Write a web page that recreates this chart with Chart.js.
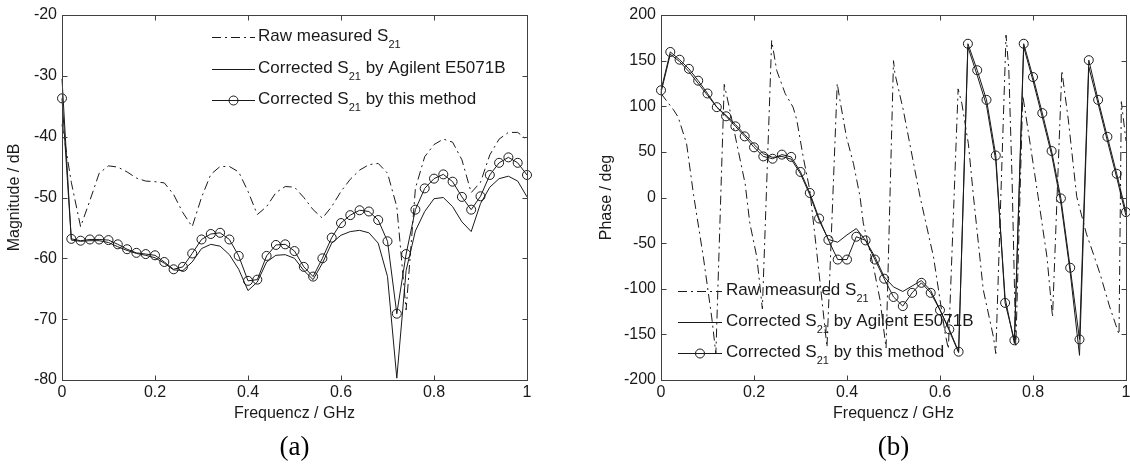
<!DOCTYPE html>
<html>
<head>
<meta charset="utf-8">
<script src="https://cdn.jsdelivr.net/npm/chart.js@4.4.0/dist/chart.umd.min.js"></script>
<style>
  html, body { margin: 0; padding: 0; background: #fff; overflow: hidden; }
  #wrap { position: relative; width: 1130px; height: 470px; }
  canvas { position: absolute; top: 0; }
  #magChart { left: 0; }
  #phaseChart { left: 565px; }
</style>
</head>
<body>
<div id="wrap">
  <canvas id="magChart" width="565" height="470"></canvas>
  <canvas id="phaseChart" width="575" height="470"></canvas>
</div>
<script>
// frequency grid of the corrected curves (GHz)
const freq = [0, 0.02, 0.04, 0.06, 0.08, 0.10, 0.12, 0.14, 0.16, 0.18,
  0.20, 0.22, 0.24, 0.26, 0.28, 0.30, 0.32, 0.34, 0.36, 0.38,
  0.40, 0.42, 0.44, 0.46, 0.48, 0.50, 0.52, 0.54, 0.56, 0.58,
  0.60, 0.62, 0.64, 0.66, 0.68, 0.70, 0.72, 0.74, 0.76, 0.78,
  0.80, 0.82, 0.84, 0.86, 0.88, 0.90, 0.92, 0.94, 0.96, 0.98, 1.00];

// (a) magnitude, dB
const magRaw = [-38, -47.5, -54.8, -50.5, -46.0, -44.8, -45.0, -45.8, -46.8, -47.3,
  -47.4, -47.6, -49.5, -52.5, -54.8, -50.0, -46.2, -44.9, -44.9, -45.8,
  -49.0, -52.8, -51.5, -49.2, -48.2, -48.3, -50.0, -52.0, -53.4, -51.5,
  -49.0, -47.0, -45.5, -44.6, -44.4, -46.0, -51.5, -68.5, -48.5, -43.3,
  -41.3, -40.4, -40.9, -43.8, -49.2, -47.5, -43.0, -40.4, -39.3, -39.3, -40.5];
const magAgilent = [-30.5, -57.0, -57.2, -57.1, -57.1, -57.4, -58.1, -58.7, -59.2, -59.5,
  -59.9, -60.8, -61.9, -62.0, -60.6, -58.4, -57.7, -58.0, -59.4, -61.8,
  -65.3, -63.9, -60.6, -59.5, -59.4, -60.0, -62.0, -63.5, -60.8, -57.5,
  -56.2, -55.6, -55.4, -55.8, -57.5, -63.0, -79.7, -62.0, -55.5, -52.3,
  -50.2, -50.0, -51.5, -54.0, -55.6, -51.0, -48.3, -46.9, -46.5, -47.3, -49.9];
const magMethod = [-33.7, -56.8, -57.1, -56.9, -56.9, -57.0, -57.7, -58.5, -59.1, -59.3,
  -59.5, -60.6, -61.8, -61.4, -59.2, -56.9, -56.0, -55.8, -56.9, -59.6,
  -63.7, -63.5, -59.6, -57.8, -57.7, -58.8, -61.4, -63.0, -60.0, -56.6,
  -54.2, -52.9, -52.1, -52.3, -53.7, -57.2, -69.1, -59.3, -52.0, -48.5,
  -46.9, -46.2, -47.4, -49.9, -52.0, -49.8, -46.3, -44.3, -43.4, -44.3, -46.3];

// (b) phase, deg
const phaseRawFreq = [0, 0.027, 0.037, 0.055, 0.07, 0.091, 0.109, 0.118,
  0.136, 0.148, 0.163, 0.181, 0.191, 0.206, 0.218,
  0.238, 0.249, 0.267, 0.284, 0.292, 0.306, 0.32, 0.335, 0.353, 0.357,
  0.379, 0.385, 0.399, 0.414, 0.428, 0.435, 0.457, 0.471, 0.484,
  0.5, 0.503, 0.521, 0.535, 0.557, 0.586, 0.6, 0.611, 0.618,
  0.639, 0.647, 0.661, 0.672, 0.693, 0.715, 0.72,
  0.742, 0.748, 0.755, 0.763,
  0.778, 0.795, 0.811, 0.83, 0.842,
  0.862, 0.876, 0.894, 0.915, 0.93, 0.945, 0.965, 0.985,
  0.99, 1.0];
const phaseRaw = [114, 96, 88, 59, 3, -65, -131, -171,
  124, 96, 59, 15, -28, -65, -122,
  172, 139, 114, 99, 85, 44, 8, -60, -145, -164,
  125, 106, 66, 37, 1, -28, -76, -112, -165,
  150, 136, 96, 59, 1, -65, -112, -149, -166,
  119, 103, 59, 1, -101, -153, -171,
  178, 140, 20, -164,
  112, 55, 1, -65, -131,
  139, 85, 1, -40, -62, -85, -120, -150,
  105, 62];
const phaseAgilent = [115, 157, 149, 138, 125, 112, 99, 90, 80, 69,
  58, 48, 44, 45, 42, 26, 3, -25, -46, -49,
  -41, -34, -47, -65, -87, -98, -103, -97, -91, -102,
  -123, -146, -170, 165, 134, 101, 40, -110, -160, 165,
  128, 88, 47, -6, -82, -173, 143, 103, 62, 22, -20];
const phaseMethod = [117.5, 159.5, 151, 141, 128, 114, 99, 89, 78, 67,
  55, 45, 42.5, 47, 44.5, 28, 5, -23, -46.5, -68,
  -68, -43, -47, -68, -89, -109, -119, -104.5, -93.5, -104.5,
  -123.5, -144.5, -169, 168.5, 139.5, 107, 46, -115.5, -156.5, 168.5,
  132, 92.5, 51, -1, -77, -155.5, 150.5, 107, 66.5, 26, -16];

// axis ticks
const freqTicks = [0, 0.2, 0.4, 0.6, 0.8, 1];
const magTicks = [-80, -70, -60, -50, -40, -30, -20];
const phaseTicks = [-200, -150, -100, -50, 0, 50, 100, 150, 200];

// legend text: [before subscript, subscript, after]
const legendLabels = [
  ['Raw measured S', '21', ''],
  ['Corrected S', '21', ' by Agilent E5071B'],
  ['Corrected S', '21', ' by this method']
];

const FONT = '"Liberation Sans", Arial, sans-serif';
const INK = '#1a1a1a';

function pts(xs, ys) {
  return xs.map((x, i) => ({ x: x, y: ys[i] }));
}

function drawLegend(chart, opts) {
  const ctx = chart.ctx;
  chart.data.datasets.forEach((ds, i) => {
    const y = opts.rows[i];
    const x0 = opts.lineX[0], x1 = opts.lineX[1];
    ctx.save();
    ctx.strokeStyle = ds.borderColor;
    ctx.lineWidth = ds.borderWidth;
    ctx.setLineDash(ds.borderDash || []);
    ctx.beginPath();
    ctx.moveTo(x0, y + 0.5);
    ctx.lineTo(x1, y + 0.5);
    ctx.stroke();
    ctx.setLineDash([]);
    if (ds.pointRadius > 0) {
      ctx.beginPath();
      ctx.arc((x0 + x1) / 2, y + 0.5, ds.pointRadius, 0, Math.PI * 2);
      ctx.strokeStyle = ds.pointBorderColor;
      ctx.stroke();
    }
    const parts = legendLabels[i];
    ctx.fillStyle = INK;
    ctx.textAlign = 'left';
    ctx.textBaseline = 'middle';
    let x = opts.textX;
    ctx.font = '17px ' + FONT;
    ctx.fillText(parts[0], x, y - 1);
    x += ctx.measureText(parts[0]).width;
    ctx.font = '11px ' + FONT;
    ctx.fillText(parts[1], x, y + 8);
    x += ctx.measureText(parts[1]).width;
    ctx.font = '17px ' + FONT;
    ctx.fillText(parts[2], x, y - 1);
    ctx.restore();
  });
}

// box, inward ticks on all four sides, legend and caption
const matlabFrame = {
  id: 'matlabFrame',
  beforeDatasetsDraw(chart, args, opts) {
    if (opts.legendUnder) drawLegend(chart, opts);
  },
  afterDatasetsDraw(chart, args, opts) {
    const ctx = chart.ctx, a = chart.chartArea;
    const xs = chart.scales.x, ys = chart.scales.y;
    const L = Math.round(a.left) + 0.5, R = Math.round(a.right) + 0.5;
    const T = Math.round(a.top) + 0.5, B = Math.round(a.bottom) + 0.5;
    ctx.save();
    ctx.strokeStyle = '#404040';
    ctx.lineWidth = 1;
    ctx.strokeRect(L, T, R - L, B - T);
    ctx.beginPath();
    xs.ticks.forEach(t => {
      const px = Math.round(xs.getPixelForValue(t.value)) + 0.5;
      ctx.moveTo(px, B); ctx.lineTo(px, B - 5);
      ctx.moveTo(px, T); ctx.lineTo(px, T + 5);
    });
    ys.ticks.forEach(t => {
      const py = Math.round(ys.getPixelForValue(t.value)) + 0.5;
      ctx.moveTo(L, py); ctx.lineTo(L + 5, py);
      ctx.moveTo(R, py); ctx.lineTo(R - 5, py);
    });
    ctx.stroke();
    ctx.restore();
    if (!opts.legendUnder) drawLegend(chart, opts);
    ctx.save();
    ctx.fillStyle = '#000';
    ctx.font = '27px "Liberation Serif", "Times New Roman", serif';
    ctx.textAlign = 'center';
    ctx.textBaseline = 'alphabetic';
    ctx.fillText(opts.caption, (a.left + a.right) / 2, opts.captionY);
    ctx.restore();
  }
};

function lineSets(rawPts, agilentPts, methodPts) {
  return [
    { data: rawPts, borderColor: INK, borderWidth: 1, borderDash: [9, 4, 2, 4],
      pointRadius: 0, clip: 8 },
    { data: agilentPts, borderColor: INK, borderWidth: 1, pointRadius: 0, clip: 8 },
    { data: methodPts, borderColor: INK, borderWidth: 1, pointRadius: 4.5,
      pointBorderColor: INK, pointBackgroundColor: 'rgba(0,0,0,0)', pointBorderWidth: 1, clip: 8 }
  ];
}

function makeScales(yTicks, yTitle, yWidth, yTitlePad) {
  const tickFont = { family: FONT, size: 16 };
  return {
    x: {
      type: 'linear', min: 0, max: 1,
      afterBuildTicks: s => { s.ticks = freqTicks.map(v => ({ value: v })); },
      afterFit: s => { s.height = 43; },
      grid: { display: false, drawTicks: false },
      border: { display: false },
      ticks: { font: tickFont, color: INK, padding: 3, maxRotation: 0, autoSkip: false,
        callback: v => String(v) },
      title: { display: true, text: 'Frequencz / GHz', font: tickFont, color: INK, padding: 0 }
    },
    y: {
      type: 'linear', min: yTicks[0], max: yTicks[yTicks.length - 1],
      afterBuildTicks: s => { s.ticks = yTicks.map(v => ({ value: v })); },
      afterFit: s => { s.width = yWidth; },
      grid: { display: false, drawTicks: false },
      border: { display: false },
      ticks: { font: tickFont, color: INK, padding: 5, autoSkip: false,
        callback: v => String(v) },
      title: { display: true, text: yTitle, font: tickFont, color: INK,
        padding: { top: yTitlePad, bottom: 0 } }
    }
  };
}

const common = {
  responsive: false,
  animation: false,
  devicePixelRatio: 1,
  events: [],
  elements: { line: { tension: 0 } }
};

new Chart(document.getElementById('magChart'), {
  type: 'line',
  data: { datasets: lineSets(pts(freq, magRaw), pts(freq, magAgilent), pts(freq, magMethod)) },
  options: Object.assign({}, common, {
    layout: { padding: { left: 0, top: 15, right: 38, bottom: 47 } },
    scales: makeScales(magTicks, 'Magnitude / dB', 62, 5),
    plugins: {
      legend: { display: false },
      tooltip: { enabled: false },
      matlabFrame: { caption: '(a)', captionY: 455, rows: [37, 69, 100], lineX: [212, 255],
        textX: 258, legendUnder: false }
    }
  }),
  plugins: [matlabFrame]
});

new Chart(document.getElementById('phaseChart'), {
  type: 'line',
  data: { datasets: lineSets(pts(phaseRawFreq, phaseRaw), pts(freq, phaseAgilent), pts(freq, phaseMethod)) },
  options: Object.assign({}, common, {
    layout: { padding: { left: 28, top: 15, right: 14, bottom: 47 } },
    scales: makeScales(phaseTicks, 'Phase / deg', 68, 4),
    plugins: {
      legend: { display: false },
      tooltip: { enabled: false },
      matlabFrame: { caption: '(b)', captionY: 455, rows: [291, 322, 353], lineX: [113, 157],
        textX: 161, legendUnder: true }
    }
  }),
  plugins: [matlabFrame]
});
</script>
</body>
</html>
